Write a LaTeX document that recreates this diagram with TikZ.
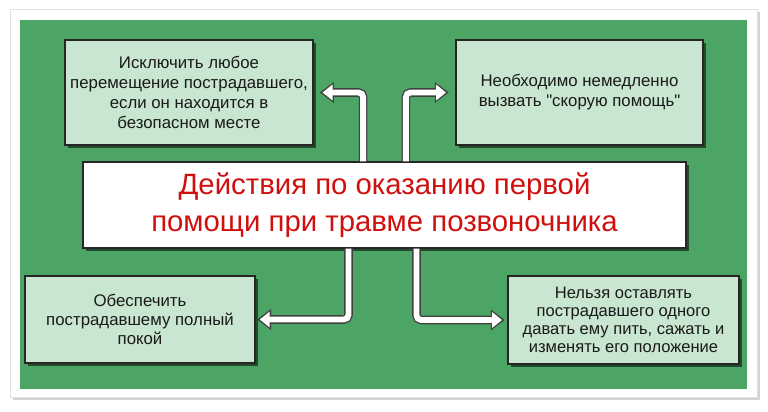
\documentclass[tikz,border=0pt]{standalone}
\usepackage{fontspec}
\setmainfont{Liberation Sans}[Ligatures=TeXOff]
\usetikzlibrary{arrows.meta, positioning, shadows}
\definecolor{cBoard}{HTML}{4CA564}
\definecolor{cBox}{HTML}{C8E6D0}
\definecolor{cTitle}{HTML}{D0100F}
\definecolor{cText}{HTML}{1A1A1A}
\tikzset{
  stepbox/.style={draw=black!85, fill=cBox, line width=1.1pt, align=center,
    font=\fontsize{12.6}{15}\selectfont, text=cText, inner sep=4pt,
    drop shadow={shadow xshift=2pt, shadow yshift=-2pt, opacity=0.55, fill=black}},
  smallbox/.style={stepbox, font=\fontsize{12.4}{13.4}\selectfont},
  titlebox/.style={stepbox, fill=white, font=\fontsize{22}{27.5}\selectfont,
    text=cTitle},
  flow/.style={line width=6.4pt, draw=black!75, rounded corners=3.5pt,
    -{Triangle[length=10.5pt 0 0, width=15pt 0 0]}, shorten >=#1,
    postaction={draw=white, line width=4.4pt, shorten >=#1+2pt,
      -{Triangle[length=7.5pt 0 0, width=11.5pt 0 0]}}},
  flow/.default=0pt,
}

\begin{document}
\begin{tikzpicture}[x=0.75pt, y=-0.75pt]
  \useasboundingbox (0,0) rectangle (768,411);

  % ----------------------------------------------------------------
  % Card and green board
  % ----------------------------------------------------------------
  \filldraw[draw=black!12, fill=white,
    drop shadow={shadow xshift=2.5pt, shadow yshift=-2.5pt, opacity=0.35}]
    (10,9) rectangle (757,397);
  \fill[cBoard] (20,20) rectangle (747,389);

  % ----------------------------------------------------------------
  % Title in the middle
  % ----------------------------------------------------------------
  \node[titlebox, minimum width=452pt, minimum height=64.5pt] (title) at (384.5,205)
    {Действия по оказанию первой\\помощи при травме позвоночника};

  % ----------------------------------------------------------------
  % Four actions
  % ----------------------------------------------------------------
  \node[stepbox, minimum width=186pt, minimum height=79pt] (nomove) at (189,92.5)
    {Исключить любое\\перемещение пострадавшего,\\если он находится в\\безопасном месте};
  \node[stepbox, minimum width=185pt, minimum height=79pt] (ambulance) at (579.5,92.5)
    {Необходимо немедленно\\вызвать "скорую помощь"};
  \node[stepbox, font=\fontsize{12.6}{14}\selectfont,
    minimum width=172.5pt, minimum height=65pt] (rest) at (140,319.5)
    {Обеспечить\\пострадавшему полный\\покой};
  \node[smallbox, minimum width=173pt, minimum height=66pt] (alone) at (623.5,320)
    {Нельзя оставлять\\пострадавшего одного\\давать ему пить, сажать и\\изменять его положение};

  % ----------------------------------------------------------------
  % Connectors
  % ----------------------------------------------------------------
  \draw[flow=4.5pt] ([xshift=-16pt]title.north) |- (nomove.east);
  \draw[flow=5pt] ([xshift=16pt]title.north) |- (ambulance.west);
  \draw[flow=1pt] ([xshift=-27pt]title.south) |- (rest.east);
  \draw[flow=2pt] ([xshift=24pt]title.south) |- (alone.west);

\end{tikzpicture}
\end{document}
